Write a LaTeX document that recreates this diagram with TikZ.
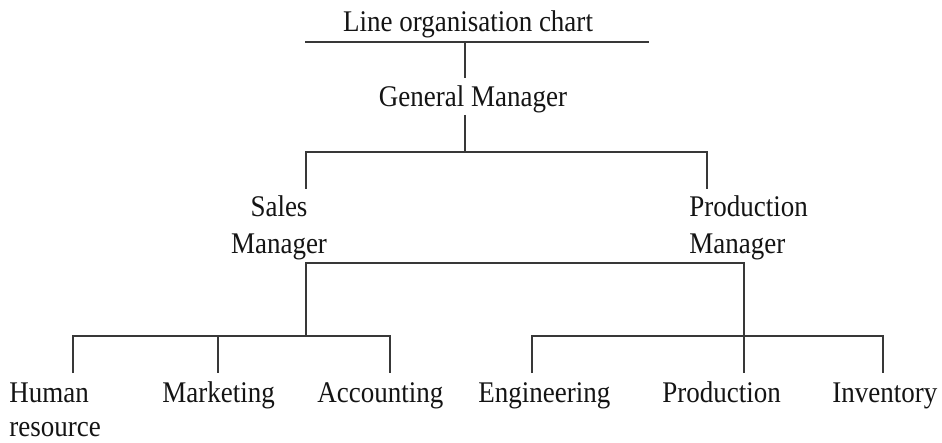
\documentclass[tikz,border=0pt]{standalone}
\usepackage{fontspec}
\setmainfont{Liberation Serif}[FakeStretch=0.9]
\begin{document}
\begin{tikzpicture}[x=0.5pt,y=-0.5pt,
  lbl/.style={inner sep=0pt, font=\fontsize{15}{18.5}\selectfont, text=black!92},
  ln/.style={draw=black!78, line width=0.6pt}]
\useasboundingbox (0,0) rectangle (942,443);
% text nodes (multi-line nodes are placed by the baseline of their last line)
\node[lbl, anchor=base] (title) at (468,32) {Line organisation chart};
\node[lbl, anchor=base] (gm) at (473,107) {General Manager};
\node[lbl, anchor=base, align=center] (sm) at (279,254) {Sales\\Manager};
\node[lbl, anchor=base west, align=left] (pm) at (689,254) {Production\\Manager};
\node[lbl, anchor=base west, align=left, font=\fontsize{15}{17}\selectfont] (hr) at (9,436) {Human\\resource};
\node[lbl, anchor=base west] (mk) at (162,402) {Marketing};
\node[lbl, anchor=base west] (ac) at (317,402) {Accounting};
\node[lbl, anchor=base west] (en) at (478,402) {Engineering};
\node[lbl, anchor=base west] (pr) at (662,402) {Production};
\node[lbl, anchor=base west] (iv) at (832,402) {Inventory};
% connector points
\coordinate (tl1) at (305,42);
\coordinate (tl2) at (649,42);
\coordinate (tlc) at (465,42);
\coordinate (gmtop) at (465,78);
\coordinate (gmbot) at (465,115);
\coordinate (gmbar) at (465,152);
\coordinate (smbar) at (306,152);
\coordinate (pmbar) at (707,152);
\coordinate (smtop) at (306,189);
\coordinate (pmtop) at (707,189);
\coordinate (smbot) at (306,263);
\coordinate (pmbot) at (744,263);
\coordinate (lbar) at (306,336);
\coordinate (rbar) at (744,336);
\coordinate (hrbar) at (73,336);
\coordinate (mkbar) at (218,336);
\coordinate (acbar) at (390,336);
\coordinate (enbar) at (532,336);
\coordinate (ivbar) at (883,336);
\coordinate (hrtop) at (73,373);
\coordinate (mktop) at (218,373);
\coordinate (actop) at (390,373);
\coordinate (entop) at (532,373);
\coordinate (prtop) at (744,373);
\coordinate (ivtop) at (883,373);
% lines
\draw[ln] (tl1) -- (tl2);
\draw[ln] (tlc) -- (gmtop);
\draw[ln] (gmbot) -- (gmbar);
\draw[ln] (smtop) -- (smbar) -- (pmbar) -- (pmtop);
\draw[ln] (lbar) -- (smbot) -- (pmbot) -- (prtop);
\draw[ln] (hrtop) -- (hrbar) -- (acbar) -- (actop);
\draw[ln] (mkbar) -- (mktop);
\draw[ln] (entop) -- (enbar) -- (ivbar) -- (ivtop);
\end{tikzpicture}
\end{document}
